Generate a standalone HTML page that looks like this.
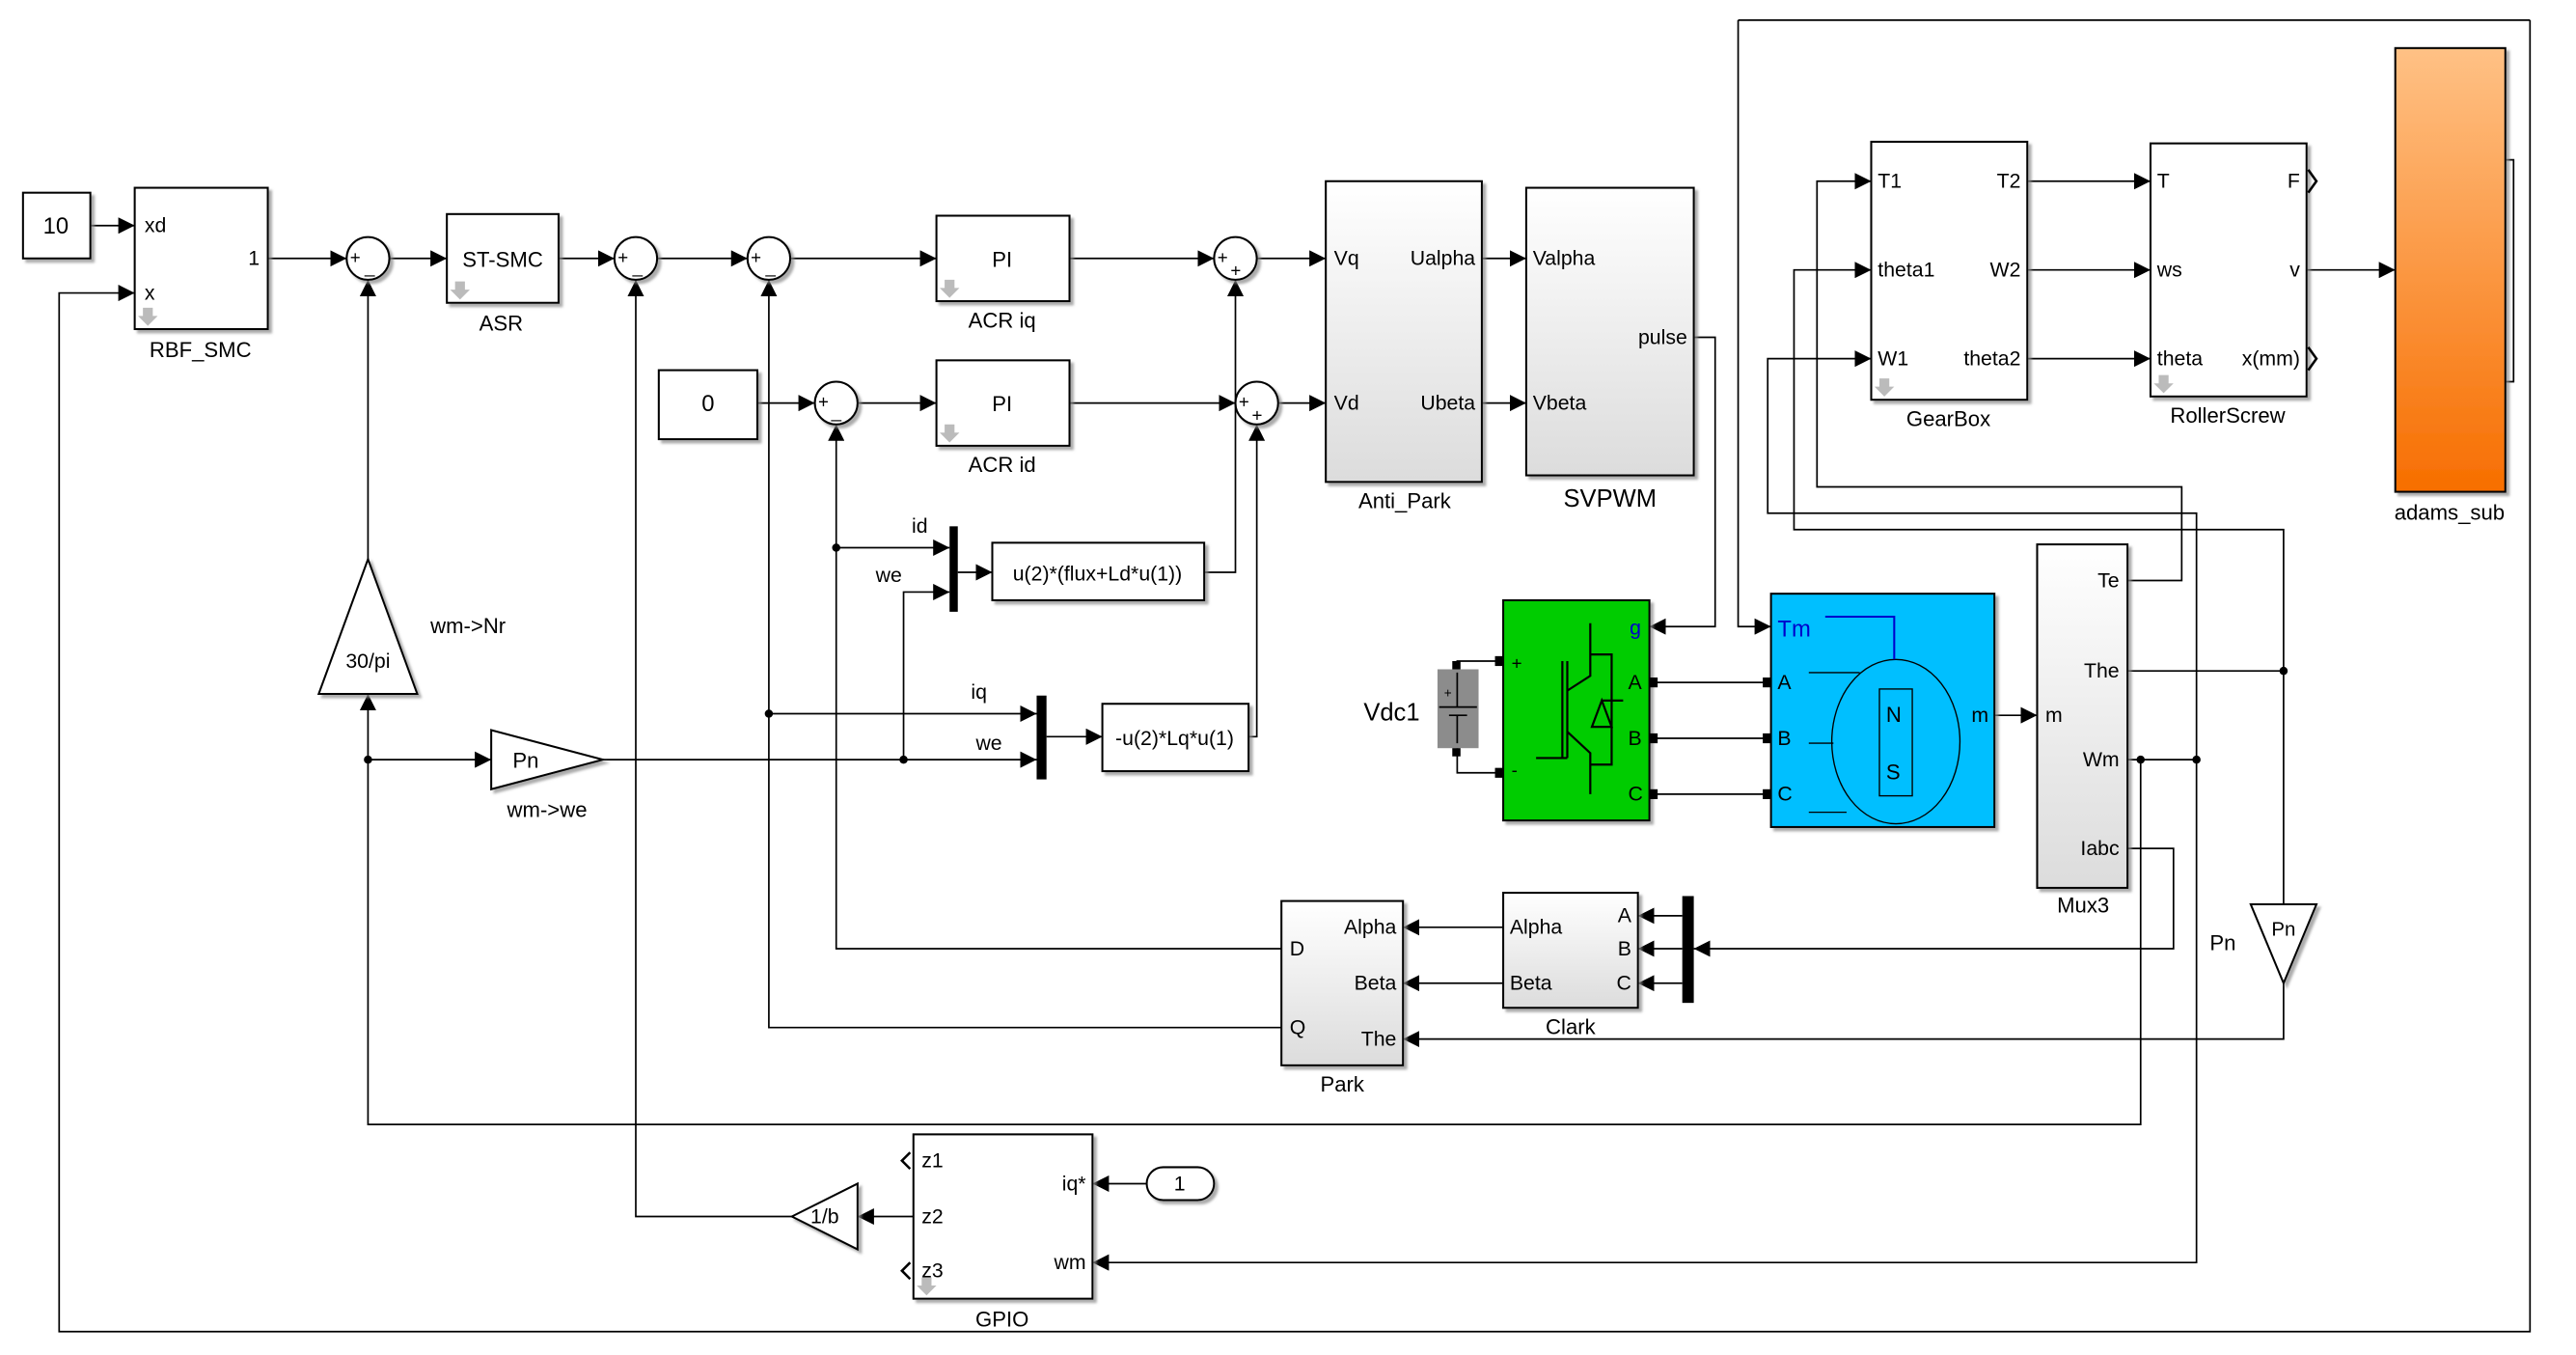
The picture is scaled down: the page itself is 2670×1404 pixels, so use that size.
<!DOCTYPE html>
<html><head><meta charset="utf-8"><style>html,body{margin:0;padding:0;background:#fff}svg{display:block}</style></head>
<body>
<svg width="2670" height="1404" viewBox="0 0 1568 824" xmlns="http://www.w3.org/2000/svg" font-family="Liberation Sans, sans-serif" font-size="12.5">
<defs>
<marker id="a" viewBox="0 0 10 10" refX="10" refY="5" markerWidth="10" markerHeight="10" markerUnits="userSpaceOnUse" orient="auto"><path d="M0,0L10,5L0,10z" fill="#000"/></marker>
<linearGradient id="g" x1="0" y1="0" x2="0" y2="1"><stop offset="0" stop-color="#fff"/><stop offset="1" stop-color="#dcdcdc"/></linearGradient>
<linearGradient id="o" x1="0" y1="0" x2="0" y2="1"><stop offset="0" stop-color="#ffc185"/><stop offset="1" stop-color="#f76e00"/></linearGradient>
<filter id="s" x="-5%" y="-5%" width="115%" height="115%"><feDropShadow dx="2" dy="2" stdDeviation="0.8" flood-color="#888" flood-opacity="0.7"/></filter>
</defs>
<g fill="none" stroke="#000" stroke-width="1">
<path d="M55,137H82" marker-end="url(#a)"/>
<path d="M163,157H211" marker-end="url(#a)"/>
<path d="M237,157H272" marker-end="url(#a)"/>
<path d="M340,157H374" marker-end="url(#a)"/>
<path d="M400,157H455" marker-end="url(#a)"/>
<path d="M481,157H570" marker-end="url(#a)"/>
<path d="M651,157H739" marker-end="url(#a)"/>
<path d="M765,157H807" marker-end="url(#a)"/>
<path d="M461,245H496" marker-end="url(#a)"/>
<path d="M522,245H570" marker-end="url(#a)"/>
<path d="M651,245H752" marker-end="url(#a)"/>
<path d="M778,245H807" marker-end="url(#a)"/>
<path d="M902,157H929" marker-end="url(#a)"/>
<path d="M902,245H929" marker-end="url(#a)"/>
<path d="M1031,205H1044V381H1004" marker-end="url(#a)"/>
<path d="M224,340V170" marker-end="url(#a)"/>
<path d="M1295,462H1337"/>
<path d="M1303,462V684H224V422" marker-end="url(#a)"/>
<path d="M224,462H299" marker-end="url(#a)"/>
<path d="M367,462H631" marker-end="url(#a)"/>
<path d="M550,462V360H578" marker-end="url(#a)"/>
<path d="M1337,462V768H665" marker-end="url(#a)"/>
<path d="M780,577H509V258" marker-end="url(#a)"/>
<path d="M509,333H578" marker-end="url(#a)"/>
<path d="M780,625H468V170" marker-end="url(#a)"/>
<path d="M468,434H631" marker-end="url(#a)"/>
<path d="M583,348H604" marker-end="url(#a)"/>
<path d="M733,348H752V170" marker-end="url(#a)"/>
<path d="M637,448H671" marker-end="url(#a)"/>
<path d="M760,448H765V258" marker-end="url(#a)"/>
<path d="M556,740H522" marker-end="url(#a)"/>
<path d="M482,740H387V170" marker-end="url(#a)"/>
<path d="M698,720H665" marker-end="url(#a)"/>
<path d="M1540,12V810H36V178H82" marker-end="url(#a)"/>
<path d="M1058,12H1540"/>
<path d="M1058,12V381H1078" marker-end="url(#a)"/>
<path d="M1525,97H1530V232H1525"/>
<path d="M1404,164H1458" marker-end="url(#a)"/>
<path d="M1234,110H1309" marker-end="url(#a)"/>
<path d="M1234,164H1309" marker-end="url(#a)"/>
<path d="M1234,218H1309" marker-end="url(#a)"/>
<path d="M1295,353H1328V296H1106V110H1139" marker-end="url(#a)"/>
<path d="M1337,462V312H1076V218H1139" marker-end="url(#a)"/>
<path d="M1295,408H1390"/>
<path d="M1390,550V322H1092V164H1139" marker-end="url(#a)"/>
<path d="M1390,598V632H854" marker-end="url(#a)"/>
<path d="M1214,435H1240" marker-end="url(#a)"/>
<path d="M1295,516H1323V577H1031" marker-end="url(#a)"/>
<path d="M915,564H854" marker-end="url(#a)"/>
<path d="M915,598H854" marker-end="url(#a)"/>
<path d="M1024,557H997" marker-end="url(#a)"/>
<path d="M1024,577H997" marker-end="url(#a)"/>
<path d="M1024,598H997" marker-end="url(#a)"/>
<path d="M1004,415H1078M1004,449H1078M1004,483H1078"/>
<path d="M887,407V402H915M887,455V470H915"/>
</g>
<g fill="#000">
<circle cx="224" cy="462" r="2.5"/><circle cx="550" cy="462" r="2.5"/><circle cx="509" cy="333" r="2.5"/>
<circle cx="468" cy="434" r="2.5"/><circle cx="1303" cy="462" r="2.5"/><circle cx="1337" cy="462" r="2.5"/><circle cx="1390" cy="408" r="2.5"/>
<rect x="578" y="320" width="5" height="52"/><rect x="631" y="423" width="6" height="51"/><rect x="1024" y="545" width="7" height="65"/>
</g>
<g stroke="#000" stroke-width="1.2" filter="url(#s)">
<rect x="14" y="117" width="41" height="40" fill="#fff"/>
<rect x="82" y="114" width="81" height="86" fill="#fff"/>
<rect x="272" y="130" width="68" height="54" fill="#fff"/>
<rect x="570" y="131" width="81" height="52" fill="#fff"/>
<rect x="570" y="219" width="81" height="52" fill="#fff"/>
<rect x="401" y="225" width="60" height="42" fill="#fff"/>
<rect x="807" y="110" width="95" height="183" fill="url(#g)"/>
<rect x="929" y="114" width="102" height="175" fill="url(#g)"/>
<rect x="604" y="330" width="129" height="35" fill="#fff"/>
<rect x="671" y="428" width="89" height="41" fill="#fff"/>
<rect x="915" y="365" width="89" height="134" fill="#00cc00"/>
<rect x="1078" y="361" width="136" height="142" fill="#00bfff"/>
<rect x="1240" y="331" width="55" height="209" fill="url(#g)"/>
<rect x="780" y="548" width="74" height="100" fill="url(#g)"/>
<rect x="915" y="543" width="82" height="70" fill="url(#g)"/>
<rect x="1139" y="86" width="95" height="157" fill="#fff"/>
<rect x="1309" y="87" width="95" height="154" fill="#fff"/>
<rect x="1458" y="29" width="67" height="270" fill="url(#o)"/>
<rect x="556" y="690" width="109" height="100" fill="#fff"/>
<rect x="698" y="710" width="41" height="20" rx="10" fill="#fff"/>
<path d="M224,340L254,422H194Z" fill="#fff"/>
<path d="M299,444L367,462L299,480Z" fill="#fff"/>
<path d="M1370,550H1410L1390,598Z" fill="#fff"/>
<path d="M482,740L522,720V760Z" fill="#fff"/>
<circle cx="224" cy="157" r="13" fill="#fff"/><circle cx="387" cy="157" r="13" fill="#fff"/>
<circle cx="468" cy="157" r="13" fill="#fff"/><circle cx="752" cy="157" r="13" fill="#fff"/>
<circle cx="509" cy="245" r="13" fill="#fff"/><circle cx="765" cy="245" r="13" fill="#fff"/>
</g>
<rect x="875" y="407" width="25" height="48" fill="#8c8c8c"/>
<path d="M876,430H899M882,435H893M887,435V452M887,409V430" stroke="#000" fill="none"/>
<text x="879" y="424" font-size="8">+</text>
<g stroke="#000" fill="none" stroke-width="1.3">
<path d="M951,402V461M954,402V461M935,461H954"/>
<path d="M968,379V411L954,420M954,445L968,458V483"/>
<path d="M968,398H981V465H968"/>
<path d="M975,426H988M975,426L969,442H981Z"/>
</g>
<ellipse cx="1154" cy="451" rx="39" ry="50" fill="none" stroke="#000" stroke-width="0.8"/>
<rect x="1144" y="419" width="20" height="65" fill="none" stroke="#000" stroke-width="0.8"/>
<path d="M1111,375H1153V401" fill="none" stroke="#0000cc" stroke-width="1.2"/>
<path d="M1101,409H1132M1101,452H1116M1101,494H1124" fill="none" stroke="#000" stroke-width="0.8"/>
<text x="1148" y="439" font-size="13">N</text><text x="1148" y="474" font-size="13">S</text>
<g font-size="11">
<text x="213" y="160">+</text><text x="222" y="166">_</text>
<text x="376" y="160">+</text><text x="385" y="166">_</text>
<text x="457" y="160">+</text><text x="466" y="166">_</text>
<text x="741" y="160">+</text><text x="749" y="168">+</text>
<text x="498" y="248">+</text><text x="506" y="254">_</text>
<text x="754" y="248">+</text><text x="762" y="256">+</text>
</g>
<g fill="#000">
<text x="34" y="142" text-anchor="middle" font-size="14">10</text>
<text x="88" y="141">xd</text><text x="88" y="182">x</text><text x="158" y="161" text-anchor="end">1</text>
<text x="122" y="217" text-anchor="middle" font-size="13">RBF_SMC</text>
<text x="306" y="162" text-anchor="middle" font-size="13">ST-SMC</text>
<text x="305" y="201" text-anchor="middle" font-size="13">ASR</text>
<text x="610" y="162" text-anchor="middle" font-size="13">PI</text>
<text x="610" y="199" text-anchor="middle" font-size="13">ACR iq</text>
<text x="610" y="250" text-anchor="middle" font-size="13">PI</text>
<text x="610" y="287" text-anchor="middle" font-size="13">ACR id</text>
<text x="431" y="250" text-anchor="middle" font-size="14">0</text>
<text x="812" y="161">Vq</text><text x="812" y="249">Vd</text>
<text x="898" y="161" text-anchor="end">Ualpha</text><text x="898" y="249" text-anchor="end">Ubeta</text>
<text x="855" y="309" text-anchor="middle" font-size="13">Anti_Park</text>
<text x="933" y="161">Valpha</text><text x="933" y="249">Vbeta</text>
<text x="1027" y="209" text-anchor="end">pulse</text>
<text x="980" y="308" text-anchor="middle" font-size="15">SVPWM</text>
<text x="555" y="324">id</text><text x="533" y="354">we</text>
<text x="668" y="353" text-anchor="middle">u(2)*(flux+Ld*u(1))</text>
<text x="591" y="425">iq</text><text x="594" y="456">we</text>
<text x="715" y="453" text-anchor="middle">-u(2)*Lq*u(1)</text>
<text x="224" y="406" text-anchor="middle">30/pi</text>
<text x="262" y="385" font-size="13">wm-&gt;Nr</text>
<text x="320" y="467" text-anchor="middle" font-size="13">Pn</text>
<text x="333" y="497" text-anchor="middle" font-size="13">wm-&gt;we</text>
<text x="830" y="438" font-size="15">Vdc1</text>
<text x="920" y="407" font-size="11">+</text><text x="920" y="472" font-size="11">-</text>
<text x="992" y="386" fill="#0000cc">g</text>
<text x="991" y="419">A</text><text x="991" y="453">B</text><text x="991" y="487">C</text>
<text x="1082" y="387" fill="#0000cc" font-size="14">Tm</text>
<text x="1082" y="419">A</text><text x="1082" y="453">B</text><text x="1082" y="487">C</text>
<text x="1200" y="439">m</text>
<text x="1245" y="439">m</text>
<text x="1290" y="357" text-anchor="end">Te</text>
<text x="1290" y="412" text-anchor="end">The</text>
<text x="1290" y="466" text-anchor="end">Wm</text>
<text x="1290" y="520" text-anchor="end">Iabc</text>
<text x="1268" y="555" text-anchor="middle" font-size="13">Mux3</text>
<text x="785" y="581">D</text><text x="785" y="629">Q</text>
<text x="850" y="568" text-anchor="end">Alpha</text><text x="850" y="602" text-anchor="end">Beta</text><text x="850" y="636" text-anchor="end">The</text>
<text x="817" y="664" text-anchor="middle" font-size="13">Park</text>
<text x="919" y="568">Alpha</text><text x="919" y="602">Beta</text>
<text x="993" y="561" text-anchor="end">A</text><text x="993" y="581" text-anchor="end">B</text><text x="993" y="602" text-anchor="end">C</text>
<text x="956" y="629" text-anchor="middle" font-size="13">Clark</text>
<text x="1143" y="114">T1</text><text x="1143" y="168">theta1</text><text x="1143" y="222">W1</text>
<text x="1230" y="114" text-anchor="end">T2</text><text x="1230" y="168" text-anchor="end">W2</text><text x="1230" y="222" text-anchor="end">theta2</text>
<text x="1186" y="259" text-anchor="middle" font-size="13">GearBox</text>
<text x="1313" y="114">T</text><text x="1313" y="168">ws</text><text x="1313" y="222">theta</text>
<text x="1400" y="114" text-anchor="end">F</text><text x="1400" y="168" text-anchor="end">v</text><text x="1400" y="222" text-anchor="end">x(mm)</text>
<text x="1356" y="257" text-anchor="middle" font-size="13">RollerScrew</text>
<text x="1491" y="316" text-anchor="middle" font-size="13">adams_sub</text>
<text x="1390" y="569" text-anchor="middle" font-size="12">Pn</text>
<text x="1353" y="578" text-anchor="middle" font-size="13">Pn</text>
<text x="561" y="710">z1</text><text x="561" y="744">z2</text><text x="561" y="777">z3</text>
<text x="661" y="724" text-anchor="end">iq*</text><text x="661" y="772" text-anchor="end">wm</text>
<text x="610" y="807" text-anchor="middle" font-size="13">GPIO</text>
<text x="718" y="724" text-anchor="middle">1</text>
<text x="502" y="744" text-anchor="middle">1/b</text>
</g>
<g fill="none" stroke="#000" stroke-width="1.5">
<path d="M1405,103L1410,110L1405,117M1405,211L1410,218L1405,225"/>
<path d="M554,701L549,706L554,711M554,768L549,773L554,778"/>
</g>
<g fill="#bbb"><path d="M87,187h6v5h3l-6,6l-6,-6h3z"/><path d="M277,171h6v5h3l-6,6l-6,-6h3z"/><path d="M575,170h6v5h3l-6,6l-6,-6h3z"/><path d="M575,258h6v5h3l-6,6l-6,-6h3z"/><path d="M1144,230h6v5h3l-6,6l-6,-6h3z"/><path d="M1314,228h6v5h3l-6,6l-6,-6h3z"/><path d="M561,777h6v5h3l-6,6l-6,-6h3z"/></g>
<g fill="#000"><rect x="1004" y="412" width="5" height="6"/><rect x="1004" y="446" width="5" height="6"/><rect x="1004" y="480" width="5" height="6"/><rect x="1073" y="412" width="5" height="6"/><rect x="1073" y="446" width="5" height="6"/><rect x="1073" y="480" width="5" height="6"/><rect x="910" y="399" width="5" height="6"/><rect x="910" y="467" width="5" height="6"/><rect x="884" y="402" width="5" height="5"/><rect x="884" y="455" width="5" height="5"/></g>
</svg>
</body></html>
